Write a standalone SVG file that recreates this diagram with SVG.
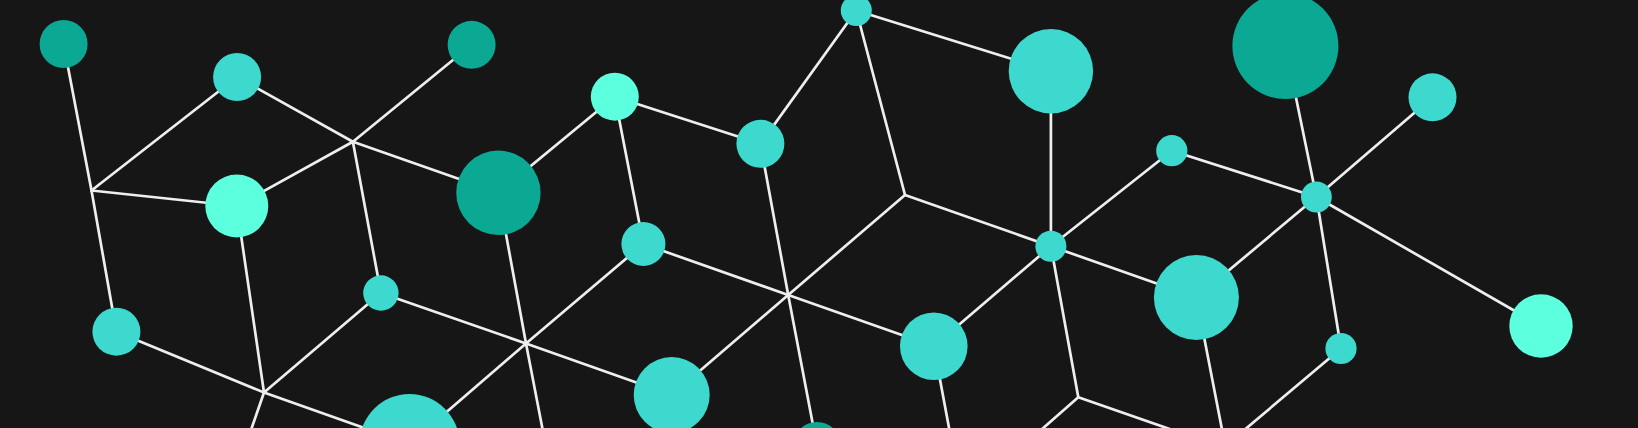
<svg xmlns="http://www.w3.org/2000/svg" width="1638" height="428" viewBox="0 0 1638 428">
<style>
.bg{fill:#161616}
.e{stroke:#EEEEEE;stroke-width:2.7;fill:none;stroke-linecap:round}
.dk{fill:#0BA893}
.md{fill:#3DD9CE}
.br{fill:#5CFFDE}
</style>
<rect class="bg" x="0" y="0" width="1638" height="428"/>
<g id="connectors">
<line class="e" x1="63.6" y1="44" x2="91.5" y2="190.5"/>
<line class="e" x1="91.5" y1="190.5" x2="237.1" y2="77"/>
<line class="e" x1="91.5" y1="190.5" x2="236.8" y2="206"/>
<line class="e" x1="91.5" y1="190.5" x2="116.4" y2="331.7"/>
<line class="e" x1="237.1" y1="77" x2="352.9" y2="141.7"/>
<line class="e" x1="471.6" y1="44.8" x2="352.9" y2="141.7"/>
<line class="e" x1="236.8" y1="206" x2="352.9" y2="141.7"/>
<line class="e" x1="352.9" y1="141.7" x2="498.4" y2="192.8"/>
<line class="e" x1="352.9" y1="141.7" x2="380.9" y2="293"/>
<line class="e" x1="236.8" y1="206" x2="264" y2="392.5"/>
<line class="e" x1="116.4" y1="331.7" x2="264" y2="392.5"/>
<line class="e" x1="380.9" y1="293" x2="264" y2="392.5"/>
<line class="e" x1="264" y1="392.5" x2="245.8" y2="445"/>
<line class="e" x1="264" y1="392.5" x2="409.5" y2="444"/>
<line class="e" x1="380.9" y1="293" x2="526" y2="343.5"/>
<line class="e" x1="498.4" y1="192.8" x2="526" y2="343.5"/>
<line class="e" x1="526" y1="343.5" x2="409.5" y2="444"/>
<line class="e" x1="526" y1="343.5" x2="671.7" y2="395"/>
<line class="e" x1="526" y1="343.5" x2="545.6" y2="445"/>
<line class="e" x1="498.4" y1="192.8" x2="614.8" y2="96.7"/>
<line class="e" x1="614.8" y1="96.7" x2="760.4" y2="143.8"/>
<line class="e" x1="614.8" y1="96.7" x2="643.4" y2="244"/>
<line class="e" x1="760.4" y1="143.8" x2="856.3" y2="10.5"/>
<line class="e" x1="856.3" y1="10.5" x2="1050.9" y2="71.2"/>
<line class="e" x1="856.3" y1="10.5" x2="905" y2="195"/>
<line class="e" x1="760.4" y1="143.8" x2="788.2" y2="295"/>
<line class="e" x1="643.4" y1="244" x2="788.2" y2="295"/>
<line class="e" x1="643.4" y1="244" x2="526" y2="343.5"/>
<line class="e" x1="905" y1="195" x2="788.2" y2="295"/>
<line class="e" x1="905" y1="195" x2="1050.9" y2="246.2"/>
<line class="e" x1="1050.9" y1="71.2" x2="1050.9" y2="246.2"/>
<line class="e" x1="788.2" y1="295" x2="671.7" y2="395"/>
<line class="e" x1="788.2" y1="295" x2="933.8" y2="346.2"/>
<line class="e" x1="788.2" y1="295" x2="817" y2="446"/>
<line class="e" x1="933.8" y1="346.2" x2="1050.9" y2="246.2"/>
<line class="e" x1="1050.9" y1="246.2" x2="1171.8" y2="150.7"/>
<line class="e" x1="1050.9" y1="246.2" x2="1196.4" y2="297.5"/>
<line class="e" x1="1050.9" y1="246.2" x2="1078.3" y2="397.3"/>
<line class="e" x1="933.8" y1="346.2" x2="952.2" y2="445"/>
<line class="e" x1="1078.3" y1="397.3" x2="1023.9" y2="445"/>
<line class="e" x1="1078.3" y1="397.3" x2="1215.7" y2="445"/>
<line class="e" x1="1285.4" y1="46" x2="1316.4" y2="197"/>
<line class="e" x1="1316.4" y1="197" x2="1432.5" y2="97.3"/>
<line class="e" x1="1171.8" y1="150.7" x2="1316.4" y2="197"/>
<line class="e" x1="1316.4" y1="197" x2="1196.4" y2="297.5"/>
<line class="e" x1="1316.4" y1="197" x2="1341" y2="348.5"/>
<line class="e" x1="1316.4" y1="197" x2="1541" y2="326"/>
<line class="e" x1="1196.4" y1="297.5" x2="1225" y2="445"/>
<line class="e" x1="1341" y1="348.5" x2="1226.5" y2="445"/>
</g>
<g id="node-a"><circle class="dk" cx="63.6" cy="44" r="24"/></g>
<g id="node-b"><circle class="md" cx="237.1" cy="77" r="24"/></g>
<g id="node-c"><circle class="dk" cx="471.6" cy="44.8" r="24"/></g>
<g id="node-d"><circle class="br" cx="236.8" cy="206" r="31.5"/></g>
<g id="node-e"><circle class="dk" cx="498.4" cy="192.8" r="42.2"/></g>
<g id="node-f"><circle class="md" cx="380.9" cy="293" r="17.7"/></g>
<g id="node-g"><circle class="md" cx="116.4" cy="331.7" r="24"/></g>
<g id="node-h"><circle class="md" cx="409.5" cy="444" r="50"/></g>
<g id="node-k"><circle class="br" cx="614.8" cy="96.7" r="24"/></g>
<g id="node-l"><circle class="md" cx="760.4" cy="143.8" r="24"/></g>
<g id="node-i"><circle class="md" cx="856.3" cy="10.5" r="15.5"/></g>
<g id="node-m"><circle class="md" cx="1050.9" cy="71.2" r="42.2"/></g>
<g id="node-n"><circle class="md" cx="1050.9" cy="246.2" r="15.5"/></g>
<g id="node-o"><circle class="md" cx="643.4" cy="244" r="22"/></g>
<g id="node-p"><circle class="md" cx="933.8" cy="346.2" r="33.8"/></g>
<g id="node-q"><circle class="md" cx="671.7" cy="395" r="38"/></g>
<g id="node-r"><circle class="dk" cx="817" cy="446" r="24"/></g>
<g id="node-u"><circle class="dk" cx="1285.4" cy="46" r="53"/></g>
<g id="node-v"><circle class="md" cx="1432.5" cy="97.3" r="24"/></g>
<g id="node-s"><circle class="md" cx="1171.8" cy="150.7" r="15.6"/></g>
<g id="node-w"><circle class="md" cx="1316.4" cy="197" r="15.4"/></g>
<g id="node-t"><circle class="md" cx="1196.4" cy="297.5" r="42.5"/></g>
<g id="node-x"><circle class="md" cx="1341" cy="348.5" r="15.6"/></g>
<g id="node-y"><circle class="br" cx="1541" cy="326" r="31.7"/></g>
</svg>
